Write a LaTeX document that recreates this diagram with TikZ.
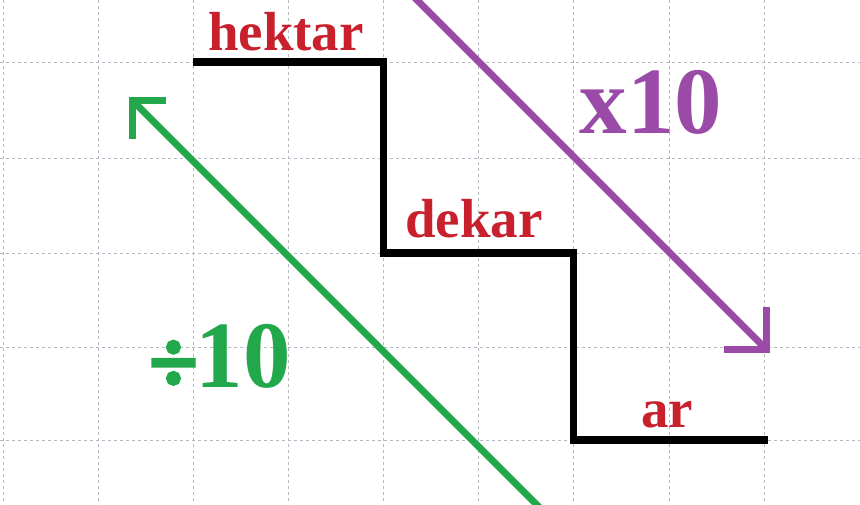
\documentclass[tikz,border=0pt]{standalone}
\usepackage{fontspec}
\setmainfont{Liberation Serif}
\newfontfamily\divfont{Liberation Serif}[FakeBold=4]
\definecolor{gridc}{HTML}{B4B9C6}
\definecolor{lblred}{HTML}{C8202C}
\definecolor{purp}{HTML}{9A4BA8}
\definecolor{grn}{HTML}{22A84A}
\tikzset{
  gridline/.style={gridc, line width=0.9pt, dash pattern=on 3pt off 3pt},
  stair/.style={black, line width=7.5pt, line cap=butt, line join=miter},
  unitlbl/.style={lblred, font=\fontsize{55}{60}\selectfont\bfseries, inner sep=0pt, anchor=base},
  oplbl/.style={font=\fontsize{95}{100}\selectfont\bfseries, inner sep=0pt, anchor=base},
  bigarrow/.style={line width=7pt, line cap=butt, line join=miter},
  armline/.style={line width=7pt, line cap=square},
}
\begin{document}
\begin{tikzpicture}[x=1pt,y=-1pt]
\useasboundingbox (0,0) rectangle (860,504);
\clip (0,0) rectangle (860,504);
\fill[white] (0,0) rectangle (860,504);
% grid
\foreach \gx in {3,98,193,288.5,383.5,478.5,573.5,669,764.5} {
  \draw[gridline] (\gx,0) -- (\gx,504);
}
\foreach \gy in {62,158,253,347,440} {
  \draw[gridline] (0,\gy) -- (860,\gy);
}
% staircase
\coordinate (s0) at (193,62);
\coordinate (s1) at (383.5,62);
\coordinate (s2) at (383.5,253);
\coordinate (s3) at (573.5,253);
\coordinate (s4) at (573.5,440);
\coordinate (s5) at (768,440);
\draw[stair] (s0) -- (s1) -- (s2) -- (s3) -- (s4) -- (s5);
% unit labels
\node[unitlbl] (hektar) at (286,50) {hektar};
\node[unitlbl] (dekar) at (474,237) {dekar};
\node[unitlbl] (ar) at (667,427) {ar};
% operation labels
\node[oplbl, purp] (times) at (651,133) {x10};
\node[oplbl, grn] (div) at (220,387) {\raisebox{-5pt}{\divfont\fontsize{88}{90}\selectfont ÷}\kern-2pt 10};
% purple arrow
\coordinate (pStart) at (400,-17);
\coordinate (pTip) at (766,349);
\draw[bigarrow, purp] (pStart) -- (pTip);
\draw[armline, purp] (724,349) -- (pTip) -- (766,307);
% green arrow
\coordinate (gStart) at (545,513);
\coordinate (gTip) at (132,100);
\draw[bigarrow, grn] (gStart) -- (gTip);
\draw[armline, grn] (166,100) -- (gTip) -- (132,139);
\end{tikzpicture}
\end{document}
